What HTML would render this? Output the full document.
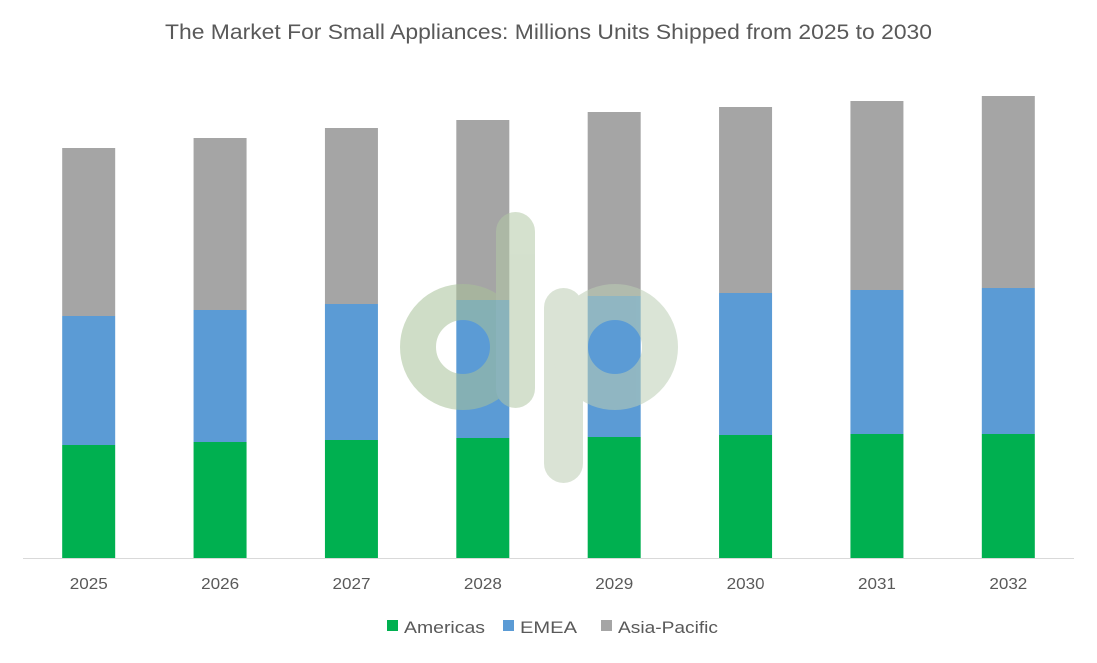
<!DOCTYPE html>
<html><head><meta charset="utf-8"><style>
body{margin:0;background:#fff;}
svg text{font-family:"Liberation Sans",Calibri,sans-serif;}
</style></head><body>
<svg id="chart" width="1097" height="658" viewBox="0 0 1097 658" xmlns="http://www.w3.org/2000/svg">
<text x="165" y="39" font-size="21" fill="#595959" textLength="767" lengthAdjust="spacingAndGlyphs">The Market For Small Appliances: Millions Units Shipped from 2025 to 2030</text>
<g id="bars"></g>
<line x1="23" y1="558.5" x2="1074" y2="558.5" stroke="#d9d9d9" stroke-width="1"/>
<g id="xlabels"></g>
<g fill="none" opacity="0.55">
<circle cx="463" cy="347" r="45" stroke="#a9c29a" stroke-width="36"/>
<rect x="496" y="212" width="39" height="196" rx="19.5" fill="#b2c8a6"/>
<rect x="544" y="288" width="39" height="195" rx="19.5" fill="#bccdb4"/>
<circle cx="615" cy="347" r="45" stroke="#bccdb4" stroke-width="36"/>
</g>
<g font-size="17" fill="#595959">
<g><rect x="387" y="620" width="11" height="11" fill="#00b050"/><text x="404" y="633" textLength="81" lengthAdjust="spacingAndGlyphs">Americas</text></g>
<g><rect x="503" y="620" width="11" height="11" fill="#5b9bd5"/><text x="520" y="633" textLength="57" lengthAdjust="spacingAndGlyphs">EMEA</text></g>
<g><rect x="601" y="620" width="11" height="11" fill="#a5a5a5"/><text x="618" y="633" textLength="100" lengthAdjust="spacingAndGlyphs">Asia-Pacific</text></g>
</g>
</svg>
<script>
const categories = ["2025","2026","2027","2028","2029","2030","2031","2032"];
const americas = [113,116,118,120,121,123,124,124];
const emea = [129,132,136,138,141,142,144,146];
const asiaPacific = [168,172,176,180,184,186,189,192];

const NS = "http://www.w3.org/2000/svg";
const plotLeft = 23, plotRight = 1074, baseY = 558, yMax = 500, plotH = 500;
const band = (plotRight - plotLeft) / categories.length;
const barW = 53;
function xCenter(i){ return plotLeft + band * (i + 0.5); }
function yScale(v){ return baseY - v / yMax * plotH; }

const bars = document.getElementById('bars');
const xl = document.getElementById('xlabels');
const series = [
  {name:'americas', data:americas, color:'#00b050'},
  {name:'emea', data:emea, color:'#5b9bd5'},
  {name:'asia-pacific', data:asiaPacific, color:'#a5a5a5'}
];
categories.forEach((c, i) => {
  let cum = 0;
  series.forEach(s => {
    const y0 = yScale(cum), y1 = yScale(cum + s.data[i]);
    cum += s.data[i];
    const r = document.createElementNS(NS, 'rect');
    
    
    r.setAttribute('x', xCenter(i) - barW / 2);
    r.setAttribute('y', y1);
    r.setAttribute('width', barW);
    r.setAttribute('height', y0 - y1);
    r.setAttribute('fill', s.color);
    bars.appendChild(r);
  });
  const t = document.createElementNS(NS, 'text');
  
  
  t.setAttribute('x', xCenter(i) - 19);
  t.setAttribute('y', 589);
  t.setAttribute('font-size', '16');
  t.setAttribute('textLength', '38');
  t.setAttribute('lengthAdjust', 'spacingAndGlyphs');
  t.setAttribute('fill', '#595959');
  t.textContent = c;
  xl.appendChild(t);
});
</script>
</body></html>
